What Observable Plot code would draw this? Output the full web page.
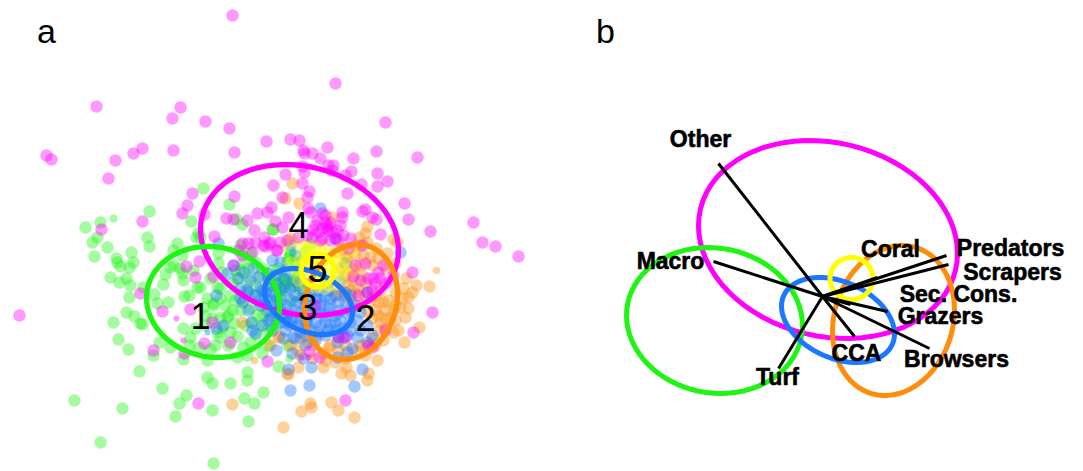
<!DOCTYPE html>
<html><head><meta charset="utf-8">
<script src="https://cdn.jsdelivr.net/npm/d3@7"></script>
<script src="https://cdn.jsdelivr.net/npm/@observablehq/plot@0.6"></script>
<style>html,body{margin:0;padding:0;background:#fff}svg{display:block}</style>
</head><body><div id="chart"></div>
<script>
const green=[[203,188],[229,204],[149,211],[100,222],[85,227],[191,221],[236,219],[242,224],[272,229],[147,237],[97,237],[92,242],[177,243],[198,233],[196,237],[107,247],[94,256],[116,258],[131,252],[117,262],[133,262],[129,267],[120,266],[149,246],[173,250],[182,255],[170,267],[165,274],[110,277],[126,278],[119,282],[130,285],[163,284],[183,280],[182,273],[200,287],[143,287],[129,297],[154,294],[157,303],[168,302],[184,296],[189,295],[207,298],[213,305],[126,312],[134,316],[113,322],[140,323],[142,324],[118,339],[128,349],[153,355],[159,342],[170,347],[183,328],[190,337],[189,345],[210,349],[199,347],[183,359],[207,360],[139,371],[207,377],[212,383],[230,383],[247,372],[247,380],[162,388],[186,395],[179,403],[175,416],[212,410],[244,398],[254,403],[263,392],[248,421],[74,400],[122,408],[100,442],[213,463],[278,366],[262,353],[237,357],[247,355],[243,347],[237,336],[220,337],[217,332],[256,334],[267,330],[234,323],[227,317],[240,310],[250,308],[257,315],[263,315],[220,288],[230,295],[213,303],[203,307],[217,287],[210,278],[197,287],[240,270],[248,268],[247,278],[237,278],[218,263],[218,253],[200,237],[173,265],[193,270],[180,268],[287,345],[270,315],[282,290],[283,278],[287,282],[293,285],[290,255],[295,263],[250,252],[240,245],[220,317],[228,315],[290,252],[288,258],[273,229],[283,287],[285,280],[280,278],[293,283],[260,275],[235,300],[225,305],[245,290],[270,300],[275,285],[300,262],[305,252],[310,243],[305,285],[298,275],[292,300],[255,295],[222,272],[232,283],[243,262],[255,262],[262,268],[268,280],[255,285],[243,300],[232,310],[220,298],[212,318],[205,325],[222,327],[230,332],[245,325],[252,322],[262,325],[275,325],[250,342],[268,345],[228,345],[215,345],[195,328],[205,315],[235,270],[265,290],[272,270],[280,295],[262,305],[287,262],[278,268],[295,275],[300,290]];
const greenSmall=[[113,218],[289,358]];
const orange=[[429,286],[416,285],[406,278],[403,288],[408,297],[402,298],[400,307],[405,317],[419,327],[404,342],[393,332],[383,340],[377,360],[367,380],[368,373],[354,417],[338,410],[331,402],[311,407],[310,403],[301,411],[283,427],[341,373],[350,375],[346,367],[323,367],[335,362],[298,367],[288,374],[270,345],[279,336],[242,322],[297,350],[307,342],[328,348],[338,337],[385,310],[383,302],[390,318],[380,322],[375,295],[358,288],[347,285],[365,283],[363,255],[360,265],[345,258],[355,245],[367,242],[397,242],[340,268],[232,404],[278,337],[287,373],[292,183],[285,198],[299,203],[367,226],[365,233],[359,237],[393,239],[332,217],[290,238],[376,248],[387,253],[395,263],[347,257],[370,257],[372,265],[355,293],[375,310],[378,315],[365,355],[375,345],[300,338],[313,345],[323,353],[350,300],[340,290],[370,300],[395,320],[385,328],[355,255],[335,295],[345,275],[330,345],[392,280],[380,290],[300,355],[345,345],[360,345],[318,335],[352,268],[362,275],[352,280],[342,248],[335,252],[378,258],[385,268],[395,292],[388,300],[378,302],[372,318],[385,318],[393,310],[398,330],[365,295],[360,305],[368,312],[378,330],[372,338],[365,345],[355,350],[345,358],[338,350],[325,360],[312,358],[290,345],[395,305],[408,308],[412,292],[350,290],[345,295],[360,245]];
const orangeSmall=[[436,270],[254,360]];
const blue=[[309,385],[290,390],[354,386],[311,367],[288,369],[276,350],[292,353],[303,358],[347,352],[362,369],[352,348],[337,357],[400,252],[320,208],[337,342],[293,337],[285,330],[357,320],[347,335],[357,337],[343,337],[367,325],[252,330],[223,325],[216,328],[216,295],[233,265],[218,243],[268,320],[272,260],[243,272],[248,292],[262,290],[253,268],[293,318],[227,273],[238,278],[247,290],[258,277],[267,273],[240,298],[260,288],[255,295],[265,298],[251,322],[255,333],[270,318],[287,315],[280,322],[275,295],[270,285],[280,300],[285,290],[290,300],[295,310],[300,320],[305,305],[310,295],[315,310],[320,300],[325,315],[330,305],[335,295],[340,310],[330,325],[320,325],[310,330],[300,332],[285,305],[278,310],[272,305],[290,325],[283,338],[310,315],[318,290],[328,290],[303,290],[295,295],[345,300],[340,320],[350,310],[325,335],[315,340],[305,345],[335,330],[260,305],[262,325],[248,310],[242,302],[275,275],[285,270],[295,255],[280,262],[290,245],[335,238],[367,292],[345,263],[360,330],[372,335],[367,342],[328,282],[340,280],[268,278],[276,283],[284,278],[292,280],[300,280],[265,292],[272,292],[280,288],[290,288],[298,285],[308,283],[280,308],[288,312],[296,302],[302,298],[310,305],[316,298],[324,296],[330,298],[338,302],[345,292],[320,312],[328,308],[335,315],[345,312],[350,322],[342,328],[335,322],[325,322],[315,322],[305,322],[298,325],[290,318],[282,315],[276,300],[300,312],[308,325],[318,332],[328,330],[338,336],[350,330],[360,312],[355,305],[350,295],[312,290],[320,305],[305,335],[295,338],[285,322],[272,330],[275,312],[267,310],[258,300],[250,280],[240,288]];
const blueSmall=[[207,332]];
const yellow=[[300,258],[305,250],[312,247],[320,250],[328,252],[335,258],[340,265],[345,272],[350,268],[355,272],[340,280],[333,285],[325,288],[315,287],[305,285],[298,280],[295,270],[290,262],[300,265],[305,260],[310,255],[318,258],[325,260],[330,265],[335,272],[328,275],[322,270],[315,265],[310,270],[305,272],[312,278],[318,280],[325,280],[312,262],[320,265],[316,272],[308,265],[330,258],[300,245],[285,245],[322,245],[345,260],[292,240],[352,250],[308,244],[340,248]];
const magenta=[[232,15],[96,106],[180,107],[172,118],[205,121],[229,128],[46,155],[51,159],[133,153],[142,148],[115,160],[108,178],[173,150],[234,152],[266,141],[285,174],[273,185],[192,193],[234,196],[282,197],[187,205],[182,213],[204,214],[142,221],[101,229],[226,218],[233,219],[247,220],[257,213],[267,212],[271,207],[275,221],[288,217],[254,230],[282,227],[214,236],[242,243],[255,242],[264,237],[280,242],[335,83],[385,122],[290,139],[299,140],[303,150],[304,153],[312,153],[327,147],[320,158],[353,158],[376,151],[417,157],[328,165],[333,165],[332,170],[351,171],[345,175],[302,166],[304,172],[377,173],[387,181],[377,186],[361,184],[302,183],[309,191],[307,197],[347,193],[404,203],[408,219],[430,231],[473,222],[482,242],[495,246],[518,256],[365,209],[362,211],[372,217],[376,219],[342,212],[342,217],[380,234],[308,208],[310,212],[317,220],[322,213],[325,215],[315,225],[327,228],[328,230],[340,225],[337,230],[318,232],[343,235],[312,237],[307,235],[322,238],[350,238],[19,315],[140,293],[162,311],[190,309],[199,261],[186,266],[195,277],[213,276],[233,265],[242,255],[212,322],[230,342],[204,343],[153,350],[184,353],[267,361],[198,403],[276,250],[263,245],[270,242],[287,240],[248,243],[269,244],[265,246],[277,250],[298,237],[238,250],[252,252],[412,272],[432,312],[413,332],[345,400],[319,357],[309,351],[368,345],[373,278],[380,278],[383,265],[353,276],[367,292],[385,330],[372,347],[345,337],[338,337],[315,305],[320,240],[335,238],[362,245],[348,248],[365,263],[355,265],[375,283],[393,275],[325,222],[330,222],[327,225],[322,228],[332,232],[312,230],[338,240],[330,240],[368,278],[378,272],[385,283],[360,280],[372,290],[358,295]];
const magentaSmall=[[176,318],[183,340],[308,357],[301,357]];

// Outline ellipses: centre x, centre y, half-width, half-height, correlation
const ellipsesA={magenta:[299,239.5,99,75.5,0.139],green:[212.5,301.5,66.5,55.5,0.075],orange:[350.5,301.5,46.5,57.5,-0.142],blue:[308,301,44,33,0.325],yellow:[317,270,16.5,16.5,0]};
const ellipsesB={magenta:[827.5,239,129.5,99,0.139],green:[714,320,88,73,0.07],orange:[893,320,61,75,-0.142],blue:[837.5,319.5,56.5,42.5,0.325],yellow:[851,278,21.5,21,0]};

const vectorOrigin=[822,296];
const vectorNames=["Other","Macro","Turf","CCA","Browsers","Grazers","Sec. Cons.","Coral","Predators","Scrapers"];
const vectorEnds=[[718,163],[713,261],[778,368],[854,336],[929,348],[887,311],[850,304],[877,277],[946,255],[948,264]];
const vectorLabelPos=[[700,139],[670,261],[777,377],[856,353],[956,359],[940,316.5],[958,294.5],[890,249],[1010,248],[1012,272]];

const clusterNames=["1","2","3","4","5"];
const clusterPos=[[200,317],[365,319],[307,308],[298,226],[317,270]];
const panelLetters=["a","b"];
const panelPos=[[46,32],[605,32]];

const COLORS={green:"#1ef512",orange:"#ff8c0a",blue:"#1e78ff",magenta:"#ff00ff",yellow:"#ffff00"};
const dots=(data,color,r)=>Plot.dot(data,{x:d=>d[0],y:d=>d[1],r,fill:COLORS[color],fillOpacity:0.4,stroke:"none"});
const outline=([cx,cy,sx,sy,rho])=>d3.range(0,361,5).map(t=>{const a=t*Math.PI/180;return [cx+sx*Math.cos(a),cy+sy*(rho*Math.cos(a)+Math.sqrt(1-rho*rho)*Math.sin(a))];});
const loop=(params,color,w)=>Plot.line(outline(params),{x:d=>d[0],y:d=>d[1],stroke:COLORS[color],strokeWidth:w});
const labels=(text,pos,o)=>Plot.text(text,{x:(_,i)=>pos[i][0],y:(_,i)=>pos[i][1],text:d=>d,fill:"#000",textAnchor:"middle",lineAnchor:"middle",fontFamily:"Liberation Sans",...o});
const order=["magenta","green","orange","blue","yellow"];

const chart=Plot.plot({
  width:1083,height:471,margin:0,
  x:{domain:[0,1083],range:[0,1083],axis:null},
  y:{domain:[0,471],range:[0,471],axis:null},
  marks:[
    dots(green,"green",6.2),dots(greenSmall,"green",4),
    dots(orange,"orange",6.2),dots(orangeSmall,"orange",3.8),
    dots(blue,"blue",6.2),dots(blueSmall,"blue",3),
    dots(yellow,"yellow",6.2),
    dots(magenta,"magenta",6.2),dots(magentaSmall,"magenta",3),
    order.map(c=>loop(ellipsesA[c],c,5.3)),
    labels(clusterNames,clusterPos,{fontSize:36}),
    labels(panelLetters,panelPos,{fontSize:34}),
    order.map(c=>loop(ellipsesB[c],c,5)),
    Plot.link(vectorEnds,{x1:()=>vectorOrigin[0],y1:()=>vectorOrigin[1],x2:d=>d[0],y2:d=>d[1],stroke:"#000",strokeWidth:3}),
    labels(vectorNames,vectorLabelPos,{fontSize:23,fontWeight:"bold",stroke:"#000",strokeWidth:0.6})
  ]
});
document.getElementById("chart").append(chart);
</script></body></html>
